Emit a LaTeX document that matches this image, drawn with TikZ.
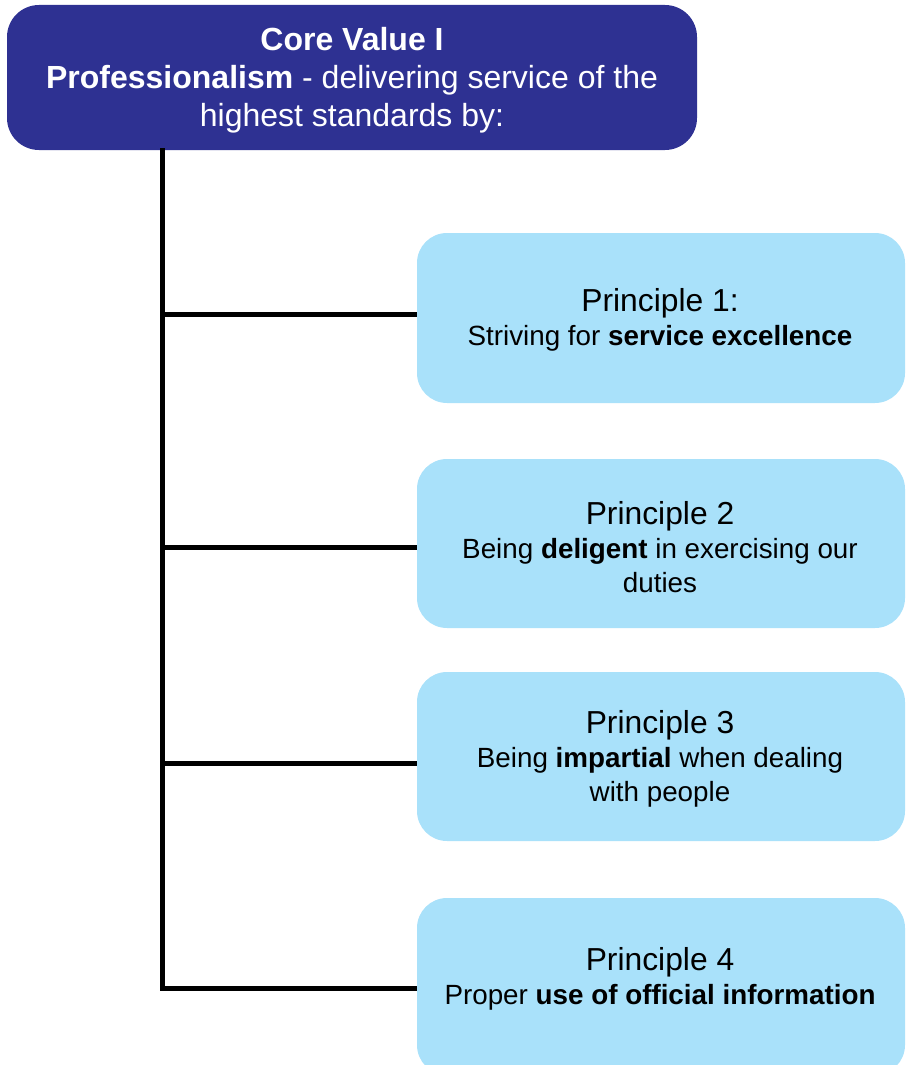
\documentclass[tikz,border=0pt]{standalone}
\usepackage{fontspec}
\setmainfont{Liberation Sans}
\definecolor{darkblue}{HTML}{2E3192}
\definecolor{lightblue}{HTML}{A9E1FA}
\begin{document}
\begin{tikzpicture}[x=1pt,y=-1pt,
  corebox/.style={fill=darkblue,rounded corners=32pt},
  coretext/.style={align=center,text=white,font=\fontsize{32}{38}\selectfont},
  pbox/.style={fill=lightblue,rounded corners=30pt},
  ptext/.style={align=center,text=black,font=\fontsize{27.8}{34}\selectfont},
  ptitle/.style={font=\fontsize{31.8}{34}\selectfont},
  conn/.style={line width=5pt,black}]
\useasboundingbox (0,0) rectangle (906,1065);
\fill[corebox] (7,5) rectangle (697,150);
\node[coretext] (core) at (352,80)
  {\textbf{Core Value I}\\\textbf{Professionalism} - delivering service of the\\highest standards by:};
\coordinate (coreb) at (162,148);
\foreach \ya/\yb in {233/403, 459/628, 672/841, 898/1075}{
  \fill[pbox] (417,\ya) rectangle (905,\yb);
}
\node[ptext] (p1) at (660,320)
  {{\fontsize{31.8}{34}\selectfont Principle 1:}\\Striving for \textbf{service excellence}};
\node[ptext] (p2) at (660,547)
  {{\fontsize{31.8}{34}\selectfont Principle 2}\\Being \textbf{deligent} in exercising our\\duties};
\node[ptext] (p3) at (660,759)
  {{\fontsize{31.8}{34}\selectfont Principle 3}\\Being \textbf{impartial} when dealing\\with people};
\node[ptext] (p4) at (660,979)
  {{\fontsize{31.8}{34}\selectfont Principle 4}\\Proper \textbf{use of official information}};
\coordinate (l1) at (417,314);
\coordinate (l2) at (417,547);
\coordinate (l3) at (417,763);
\coordinate (l4) at (417,988);
\draw[conn] (coreb) -- (coreb |- l4) -- (l4);
\draw[conn] (coreb |- l1) -- (l1);
\draw[conn] (coreb |- l2) -- (l2);
\draw[conn] (coreb |- l3) -- (l3);
\end{tikzpicture}
\end{document}
